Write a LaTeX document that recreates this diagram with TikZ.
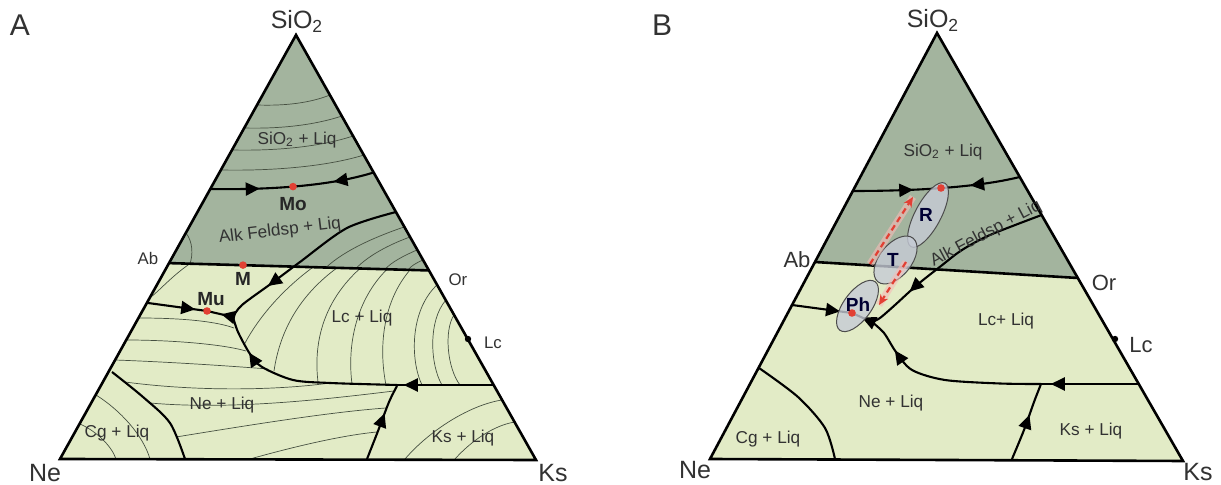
\documentclass[tikz,border=0pt]{standalone}
\usepackage{fontspec}
\setmainfont{Liberation Sans}
\usetikzlibrary{calc,arrows.meta,decorations.markings}

\definecolor{silfield}{RGB}{163,180,158}
\definecolor{liqfield}{RGB}{226,235,198}
\definecolor{isoline}{RGB}{70,80,65}
\definecolor{meltred}{RGB}{226,64,52}
\definecolor{blobfill}{RGB}{198,203,214}
\definecolor{inkgray}{RGB}{50,50,50}

\tikzset{
  rim/.style={line width=1.3pt, line join=miter},
  cotectic/.style={line width=1.05pt},
  isotherm/.style={line width=0.35pt, draw=isoline},
  fwd/.style={postaction={decorate,decoration={markings,mark=at position #1 with {\arrow{Triangle[length=7pt,width=6.5pt]}}}}},
  bwd/.style={postaction={decorate,decoration={markings,mark=at position #1 with {\arrowreversed{Triangle[length=7pt,width=6.5pt]}}}}},
  field/.style={font=\fontsize{8.6}{10}\selectfont, text=inkgray, inner sep=0pt},
  apex/.style={font=\fontsize{12.5}{14}\selectfont, text=inkgray, inner sep=0pt},
  phase/.style={font=\fontsize{8.4}{10}\selectfont, text=inkgray, inner sep=0pt},
  melt/.style={font=\bfseries\fontsize{9.5}{11}\selectfont, text=black!85, inner sep=0pt},
  panel/.style={font=\fontsize{15}{17}\selectfont, text=inkgray, inner sep=0pt},
  blob/.style={fill=blobfill, fill opacity=0.8, draw=black!70, line width=0.5pt},
  trend/.style={draw=meltred, line width=1.1pt, dash pattern=on 3pt off 2pt, -{Stealth[length=5pt,width=4.5pt]}},
}

\begin{document}
\begin{tikzpicture}[x=0.5pt,y=-0.5pt]
    \useasboundingbox (0,0) rectangle (1221,485);
    \fill[white] (0,0) rectangle (1221,485);

    % Panel A
    \coordinate (NeA) at (60,459);
    \coordinate (KsA) at (536,460);
    \coordinate (SiA) at (296,35);
    \coordinate (AbA) at ($(NeA)!0.462!(SiA)$);
    \coordinate (OrA) at ($(KsA)!0.446!(SiA)$);
    \fill[liqfield] (NeA) -- (KsA) -- (SiA) -- cycle;
    \fill[silfield] (AbA) -- (OrA) -- (SiA) -- cycle;
    % isotherms A
    \begin{scope}[isotherm]
        \draw (257,105) .. controls (285,106) and (310,103) .. (330,95);
        \draw (244,128) .. controls (280,129) and (315,125) .. (342,116);
        \draw (232,150) .. controls (275,151) and (320,147) .. (353,136);
        \draw (221,170) .. controls (270,171) and (325,167) .. (364,155);
        \draw (186,233) .. controls (193,242) and (193,255) .. (190,263.6);
        \draw (190,263.6) .. controls (172,276) and (160,290) .. (151,297);
        \draw (404,227) .. controls (375,237) and (345,250) .. (326,267.5);
        \draw (410,237) .. controls (388,245) and (368,256) .. (356,268.4);
        \draw (417,250) .. controls (403,256) and (392,262) .. (385,269.2);
        \draw (423,260) .. controls (416,263) and (411,266) .. (408,269.9);
        \draw (313,267.2) .. controls (282,290) and (258,318) .. (244,345);
        \draw (337,267.9) .. controls (300,295) and (280,330) .. (274,371);
        \draw (360,268.5) .. controls (325,300) and (313,340) .. (318,382);
        \draw (387,269.3) .. controls (356,300) and (347,345) .. (352,384);
        \draw (410,270) .. controls (384,300) and (378,345) .. (386,385);
        \draw (437,285) .. controls (410,310) and (410,360) .. (422,385);
        \draw (446,300) .. controls (428,320) and (430,365) .. (442,385);
        \draw (454,315) .. controls (444,330) and (447,368) .. (460,385);
        \draw (138.5,318) .. controls (180,318) and (215,321) .. (234,328);
        \draw (126,340) .. controls (170,340) and (222,344) .. (246,351);
        \draw (115,360) .. controls (170,362) and (230,366) .. (268,369);
        \draw (125,382) .. controls (200,392) and (280,390) .. (330,383);
        \draw (150,403) .. controls (230,410) and (320,400) .. (394,391);
        \draw (176,437) .. controls (250,425) and (330,412) .. (386,408);
        \draw (250,459) .. controls (300,445) and (345,435) .. (377,432);
        \draw (96,395) .. controls (120,410) and (143,435) .. (150,459);
        \draw (80,424) .. controls (98,432) and (112,447) .. (116,459);
        \draw (405,459) .. controls (430,430) and (470,405) .. (502,400);
        \draw (455,459) .. controls (472,440) and (495,425) .. (515,422);
    \end{scope}
    % boundaries A
    \draw[cotectic, fwd=0.3, bwd=0.75] (210.3,189) .. controls (270,190) and (330,186) .. (373.6,172.5);
    \draw[rim] (AbA) -- (OrA);
    \draw[cotectic, fwd=0.76] plot[smooth] coordinates {(396,212) (347,228) (300,262) (272,283) (242,305) (233,317)};
    \draw[cotectic, fwd=0.8] plot[smooth] coordinates {(397,385) (330,383) (293,380) (262,367) (250,354) (238,332) (233,317)};
    \draw[cotectic, fwd=0.45] (233,317) -- (207,311);
    \draw[cotectic, fwd=0.8] (148,303) -- (207,311);
    \draw[cotectic, fwd=0.93] (493.6,385) -- (397,385);
    \draw[cotectic, fwd=0.62] plot[smooth] coordinates {(367,459) (378,431) (389,402) (397,386)};
    \draw[cotectic] plot[smooth] coordinates {(112,372) (143,397) (170,423) (185,459)};
    \fill[meltred] (293,186.6) circle[radius=1.9pt];
    \fill[meltred] (243,265.1) circle[radius=1.9pt];
    \fill[meltred] (207,311) circle[radius=1.9pt];
    \fill (468,339) circle[radius=1.6pt];
    \draw[rim] (NeA) -- (KsA) -- (SiA) -- cycle;
    % labels A
    \node[panel] (lblA) at (20,25) {A};
    \node[apex] (siA) at (297,21) {SiO\textsubscript{2}};
    \node[apex] (neA) at (45,473) {Ne};
    \node[apex] (ksA) at (553,473) {Ks};
    \node[phase] (abA) at (148,259) {Ab};
    \node[phase] (orA) at (458,280) {Or};
    \node[phase] (lcA) at (493,343) {Lc};
    \node[field] (qzA) at (297,140) {SiO\textsubscript{2} + Liq};
    \node[field, rotate=7] (afA) at (280,231) {Alk Feldsp + Liq};
    \node[field] (lcliqA) at (362,318) {Lc + Liq};
    \node[field] (neliqA) at (222,405) {Ne + Liq};
    \node[field] (cgliqA) at (117,433) {Cg + Liq};
    \node[field] (ksliqA) at (463,438) {Ks + Liq};
    \node[melt] (moA) at (293,204) {Mo};
    \node[melt] (mA) at (243,279) {M};
    \node[melt] (muA) at (211,299) {Mu};

    % Panel B
    \coordinate (NeB) at (710,459);
    \coordinate (KsB) at (1183,461);
    \coordinate (SiB) at (937,33);
    \coordinate (AbB) at ($(NeB)!0.4624!(SiB)$);
    \coordinate (OrB) at ($(KsB)!0.4276!(SiB)$);
    \fill[liqfield] (NeB) -- (KsB) -- (SiB) -- cycle;
    \fill[silfield] (AbB) -- (OrB) -- (SiB) -- cycle;
    % boundaries B
    \draw[cotectic, fwd=0.36, bwd=0.7] (852.8,191) .. controls (910,191) and (975,188) .. (1019.8,177);
    \draw[rim] (AbB) -- (OrB);
    \draw[cotectic, fwd=0.76] plot[smooth] coordinates {(1041.6,215) (990,235) (962,250) (941,266) (917,285) (895,305) (880,318) (872,322)};
    \draw[cotectic, fwd=0.81] plot[smooth] coordinates {(1041,384) (1000,383.5) (945,380) (912,370) (896,352) (884,333) (872,322)};
    \draw[cotectic, fwd=0.5] (872,322) -- (852,313);
    \draw[cotectic, fwd=0.8] (792,305) -- (852,313);
    \draw[cotectic, fwd=0.9] (1138.7,384) -- (1041,384);
    \draw[cotectic, fwd=0.59] plot[smooth] coordinates {(1012,459) (1024,430) (1034,402) (1041,384)};
    \draw[cotectic] plot[smooth] coordinates {(759,368) (798,397) (825,428) (835,459)};
    \fill (1115,339) circle[radius=1.6pt];
    % melt trends B
    \draw[blob, rotate around={62:(928,215)}] (928,215) ellipse[x radius=18pt, y radius=6.5pt];
    \draw[blob, rotate around={51:(895.5,260)}] (895.5,260) ellipse[x radius=14pt, y radius=8pt];
    \draw[blob, rotate around={54:(857.5,306)}] (857.5,306) ellipse[x radius=15pt, y radius=7pt];
    \fill[meltred] (941,188) circle[radius=1.9pt];
    \fill[meltred] (852,313) circle[radius=1.9pt];
    \draw[meltred!35, line width=3.5pt, opacity=0.6] (870,264) -- (913,197);
    \draw[meltred!35, line width=3.5pt, opacity=0.6] (906,262) -- (879,305);
    \draw[trend] (870,264) -- (913,197);
    \draw[trend] (906,262) -- (879,305);
    \draw[rim] (NeB) -- (KsB) -- (SiB) -- cycle;
    % labels B
    \node[panel] (lblB) at (662,25) {B};
    \node[apex] (siB) at (933,20) {SiO\textsubscript{2}};
    \node[apex] (neB) at (695,470) {Ne};
    \node[apex] (ksB) at (1198,472) {Ks};
    \node[apex, font=\fontsize{11}{13}\selectfont] (abB) at (797,260) {Ab};
    \node[apex, font=\fontsize{11}{13}\selectfont] (orB) at (1104,283) {Or};
    \node[apex, font=\fontsize{11}{13}\selectfont] (lcB) at (1141,345) {Lc};
    \node[field] (qzB) at (943,152) {SiO\textsubscript{2} + Liq};
    \node[field, rotate=28] (afB) at (986,234) {Alk Feldsp + Liq};
    \node[field] (lcliqB) at (1006,321) {Lc+ Liq};
    \node[field] (neliqB) at (891,403) {Ne + Liq};
    \node[field] (cgliqB) at (768,439) {Cg + Liq};
    \node[field] (ksliqB) at (1091,431) {Ks + Liq};
    \node[melt, text=black!80!blue] (rB) at (926,215) {R};
    \node[melt, text=black!80!blue] (tB) at (893,260) {T};
    \node[melt, text=black!80!blue] (phB) at (858,305) {Ph};
\end{tikzpicture}
\end{document}
